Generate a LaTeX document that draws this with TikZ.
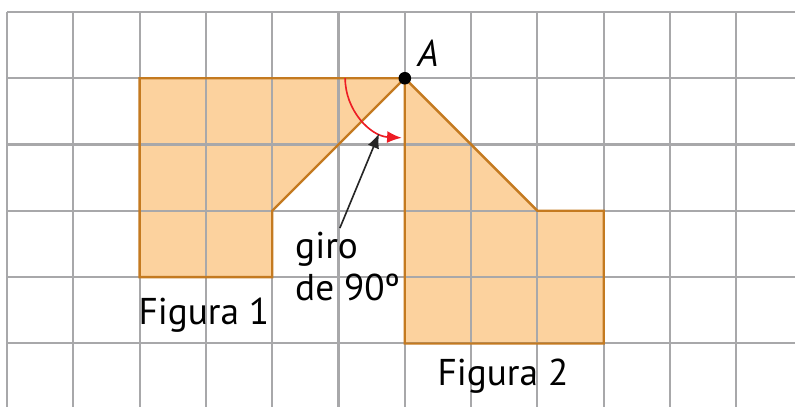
\documentclass[tikz,border=0pt]{standalone}
\usepackage{fontspec}
\setmainfont{PT Sans}
\definecolor{naranja}{RGB}{252,210,158}
\definecolor{borde}{RGB}{196,122,32}
\definecolor{rejilla}{RGB}{168,168,170}
\definecolor{rojo}{RGB}{237,28,36}
\usetikzlibrary{arrows.meta,calc}

\begin{document}
\begin{tikzpicture}[
    linea/.style={rejilla,line width=0.9pt},
    figura/.style={draw=borde,line width=1pt,line join=miter},
    etiqueta/.style={font=\fontsize{16}{18}\selectfont,inner sep=0pt},
  ]
  \useasboundingbox (-0.106,0.042) rectangle (11.885,6.18);

  \coordinate (A) at (6,5);

  % relleno de las figuras
  \fill[naranja] (A) -- (2,5) -- (2,2) -- (4,2) -- (4,3) -- cycle;
  \fill[naranja] (A) -- (6,1) -- (9,1) -- (9,3) -- (8,3) -- cycle;

  % cuadricula
  \foreach \x in {0,...,11}
    \draw[linea] (\x,0.042) -- (\x,6);
  \foreach \y in {1,...,6}
    \draw[linea] (0,\y) -- (11.885,\y);

  % contornos
  \draw[figura] (A) -- (2,5) -- (2,2) -- (4,2) -- (4,3) -- cycle;
  \draw[figura] (A) -- (6,1) -- (9,1) -- (9,3) -- (8,3) -- cycle;

  % giro
  \draw[rojo,line width=0.7pt,-{Latex[length=2.2mm,width=1.8mm]}]
    ($(A)+(180:0.9)$) arc[start angle=180,end angle=267,radius=0.9];

  \node[fill=black,circle,inner sep=0pt,minimum size=0.19cm] (punto) at (A) {};
  \node[etiqueta,font=\fontsize{16}{18}\selectfont\itshape] (nA) at (6.35,5.38) {A};

  \node[etiqueta,anchor=base] (fig1) at (2.97,1.28) {Figura 1};
  \node[etiqueta,anchor=base] (fig2) at (7.48,0.36) {Figura 2};
  \node[etiqueta,align=left,anchor=north west] (giro) at (4.34,2.68)
    {giro\\de 90º};

  \coordinate (cola) at (5.02,2.74);
  \draw[black!85,line width=0.7pt,-{Latex[length=2.2mm,width=1.8mm]}]
    (cola) -- ($(A)+(245:0.92)$);
\end{tikzpicture}
\end{document}
